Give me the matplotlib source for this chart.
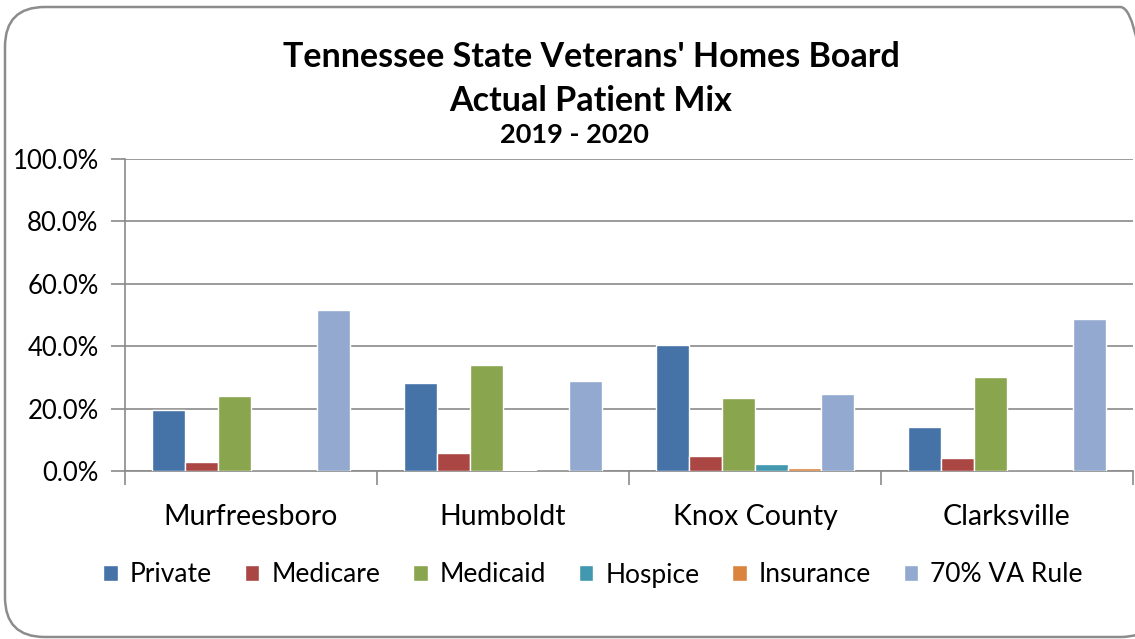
import matplotlib
matplotlib.use("Agg")
import matplotlib.pyplot as plt
import numpy as np
from matplotlib.patches import FancyBboxPatch

plt.rcParams['font.family'] = ['Lato', 'DejaVu Sans']

categories = ["Murfreesboro", "Humboldt", "Knox County", "Clarksville"]
series_names = ["Private", "Medicare", "Medicaid", "Hospice", "Insurance", "70% VA Rule"]
private = [19.7, 28.3, 40.5, 14.2]
medicare = [2.9, 5.9, 4.7, 4.3]
medicaid = [24.0, 33.9, 23.5, 30.1]
hospice = [0.0, 0.2, 2.2, 0.0]
insurance = [0.0, 0.0, 1.1, 0.0]
va_rule = [51.5, 29.0, 24.8, 48.8]
yticks = [0, 20, 40, 60, 80, 100]
ytick_labels = ["0.0%", "20.0%", "40.0%", "60.0%", "80.0%", "100.0%"]

colors = ["#4572A7", "#AA4643", "#89A54E", "#4198AF", "#DB843D", "#93A9CF"]
series = [private, medicare, medicaid, hospice, insurance, va_rule]

W, H = 1135, 639
fig = plt.figure(figsize=(W / 100, H / 100), dpi=100)

# rounded chart border
border = FancyBboxPatch((5 / W, 2 / H), (1160 - 5) / W, (632 - 2) / H,
                        boxstyle="round,pad=0,rounding_size=0.035",
                        transform=fig.transFigure, fill=False,
                        edgecolor="#8c8c8c", linewidth=1.8, mutation_aspect=W / H)
fig.patches.append(border)

ax = fig.add_axes([125 / W, (H - 471) / H, (1133 - 125) / W, (471 - 159) / H])
x = np.arange(len(categories))
bw = 0.131
n = len(series)
for i, (vals, c, name) in enumerate(zip(series, colors, series_names)):
    off = (i - (n - 1) / 2) * bw
    ax.bar(x + off, vals, width=bw, color=c, edgecolor="white", linewidth=1.0,
           label=name, zorder=3)

ax.set_xlim(-0.5, len(categories) - 0.5)
ax.set_ylim(0, 100)
ax.set_yticks(yticks)
ax.set_yticklabels(ytick_labels, fontsize=18.5)
ax.yaxis.grid(True, color="#8a8a8a", linewidth=1.2, zorder=0)
ax.set_axisbelow(True)
ax.set_xticks(x)
ax.set_xticklabels(categories, fontsize=20.5)
ax.set_xticks(np.arange(len(categories) + 1) - 0.5, minor=True)
ax.tick_params(axis='x', which='major', length=0, pad=24)
ax.tick_params(axis='x', which='minor', length=10, color="#8a8a8a", width=1.2)
ax.tick_params(axis='y', length=10, color="#8a8a8a", width=1.2, pad=9)
for s in ["top", "right"]:
    ax.spines[s].set_visible(False)
for s in ["left", "bottom"]:
    ax.spines[s].set_color("#8a8a8a")
    ax.spines[s].set_linewidth(1.2)

fig.text(591 / W, 1 - 57 / H, "Tennessee State Veterans' Homes Board",
         ha="center", va="center", fontsize=24.5, fontweight="bold")
fig.text(591 / W, 1 - 101 / H, "Actual Patient Mix",
         ha="center", va="center", fontsize=24.5, fontweight="bold")
fig.text(574 / W, 1 - 135 / H, "2019 - 2020",
         ha="center", va="center", fontsize=19.5, fontweight="bold")

leg = fig.legend(loc="center", bbox_to_anchor=(593 / W, 1 - 575 / H), ncol=6,
                 frameon=False, fontsize=19, handlelength=0.55, handleheight=0.55,
                 handletextpad=0.45, columnspacing=1.25)

fig.savefig("out.png", dpi=100)
